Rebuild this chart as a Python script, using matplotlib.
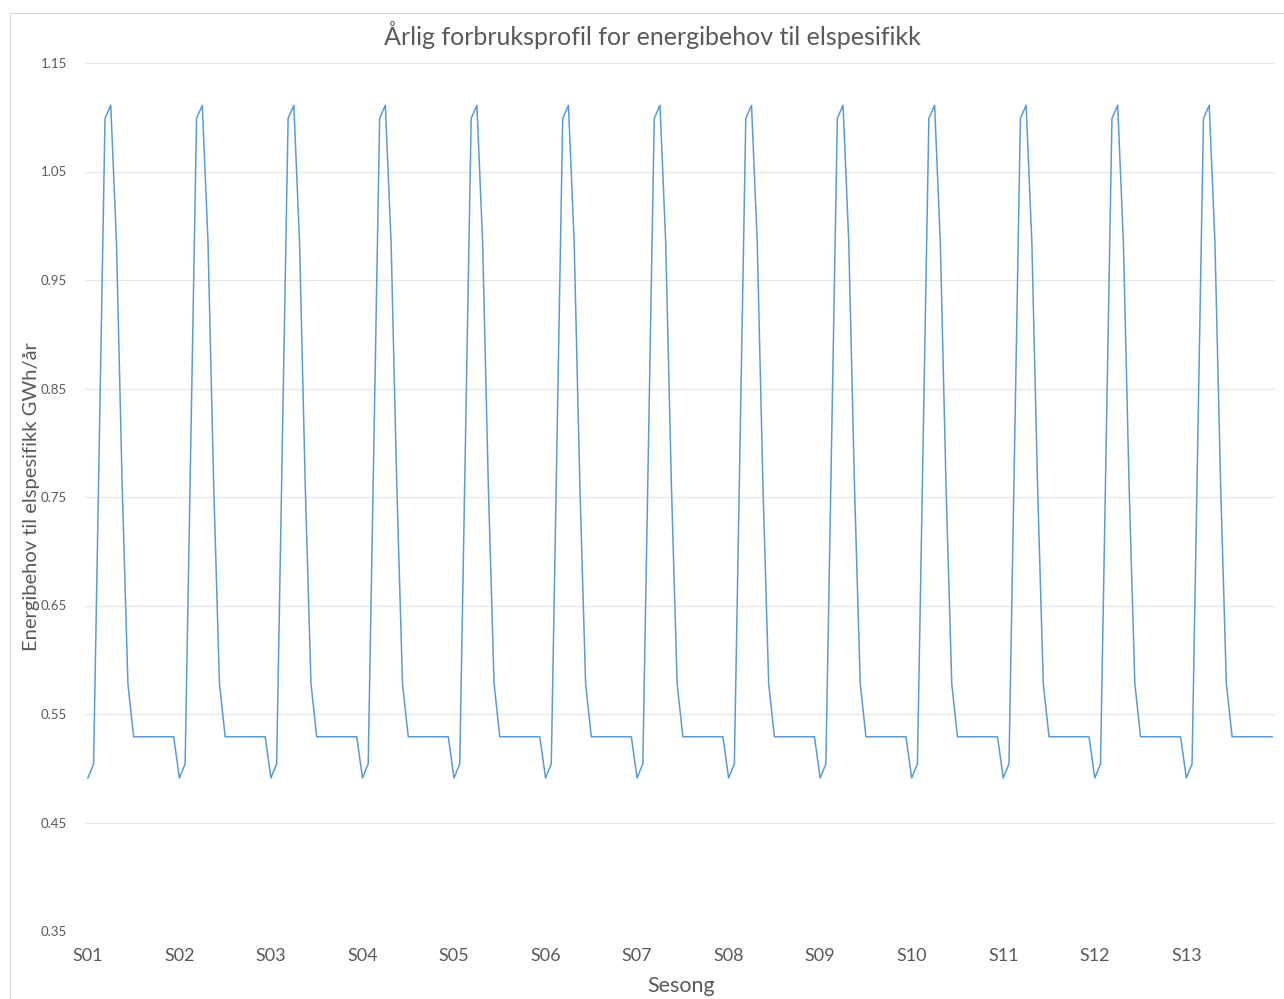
import matplotlib.pyplot as plt
from matplotlib.lines import Line2D

# Profil innenfor en sesong (16 punkter), gjentatt for 13 sesonger
sesonger = [f'S{i+1:02d}' for i in range(13)]
profil = [0.491, 0.504, 0.80, 1.099, 1.111, 0.985, 0.76, 0.578,
          0.529, 0.529, 0.529, 0.529, 0.529, 0.529, 0.529, 0.529]
verdier = profil * len(sesonger)
punkter_per_sesong = len(profil)

tekstfarge = '#595959'
linjefarge = '#5B9BD5'
gridfarge = '#E6E6E6'

plt.rcParams['font.family'] = ['Lato', 'DejaVu Sans']

fig = plt.figure(figsize=(12.84, 9.99), dpi=100)
ax = fig.add_axes([85/1284, 1 - 931/999, (1275 - 85)/1284, (931 - 63)/999])

x = list(range(len(verdier)))
ax.plot(x, verdier, color=linjefarge, linewidth=1.1)

ax.set_xlim(-0.5, len(verdier) - 0.5)
ax.set_ylim(0.35, 1.15)
ax.set_yticks([0.35 + 0.1*i for i in range(9)])
ax.set_yticklabels([f'{0.35 + 0.1*i:.2f}' for i in range(9)])
ax.set_xticks([i*punkter_per_sesong for i in range(len(sesonger))])
ax.set_xticklabels(sesonger)

ax.grid(axis='y', color=gridfarge, linewidth=0.9)
ax.set_axisbelow(True)
for s in ax.spines.values():
    s.set_visible(False)
ax.tick_params(axis='both', length=0, colors=tekstfarge)
ax.tick_params(axis='y', labelsize=9.5, pad=13)
ax.tick_params(axis='x', labelsize=13, pad=12)

fig.text(681/1284, 1 - 986/999, 'Sesong', ha='center', va='center',
         fontsize=15.5, color=tekstfarge)
fig.text(32/1284, 1 - 497/999, 'Energibehov til elspesifikk GWh/år', ha='center', va='center',
         rotation=90, fontsize=14.5, color=tekstfarge)
fig.text(652/1284, 1 - 35/999, 'Årlig forbruksprofil for energibehov til elspesifikk',
         ha='center', va='center', fontsize=18, color=tekstfarge)

# ramme rundt diagrammet
fig.add_artist(Line2D([10/1284, 10/1284], [0, 1 - 13/999], color='#D9D9D9', linewidth=0.8))
fig.add_artist(Line2D([10/1284, 1], [1 - 13/999, 1 - 13/999], color='#D9D9D9', linewidth=0.8))

fig.savefig('out.png', dpi=100)
